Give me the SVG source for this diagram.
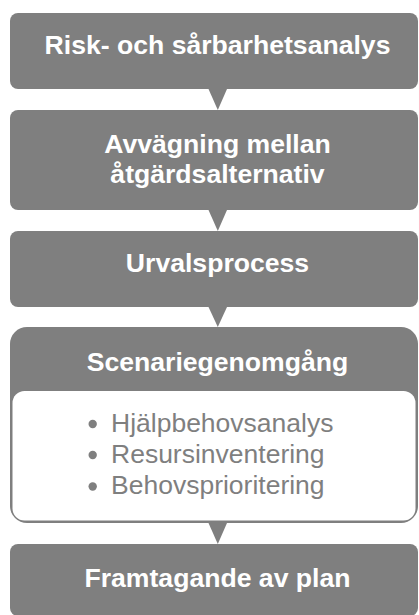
<svg xmlns="http://www.w3.org/2000/svg" width="419" height="615" viewBox="0 0 419 615">
<style>
.box{fill:#7f7f7f}
.t{font-family:"Liberation Sans",Arial,sans-serif;font-weight:bold;font-size:26.6px;fill:#ffffff;text-anchor:middle}
.b{font-family:"Liberation Sans",Arial,sans-serif;font-size:26.5px;fill:#7f7f7f}
.arr{fill:#7f7f7f}
</style>
<rect width="419" height="615" fill="#ffffff"/>
<g id="n1">
<rect class="box" x="10" y="13" width="408" height="76" rx="8"/>
<text class="t" x="217.5" y="54">Risk- och sårbarhetsanalys</text>
</g>
<g id="n2">
<rect class="box" x="10" y="110" width="408" height="100" rx="8"/>
<text class="t" x="217.5" y="153">Avvägning mellan</text>
<text class="t" x="217.5" y="183">åtgärdsalternativ</text>
</g>
<g id="n3">
<rect class="box" x="10" y="231" width="408" height="76" rx="8"/>
<text class="t" x="217.5" y="272">Urvalsprocess</text>
</g>
<g id="n4">
<rect class="box" x="10" y="327" width="408" height="196" rx="17"/>
<text class="t" x="217.5" y="371">Scenariegenomgång</text>
<rect x="12.5" y="391" width="403" height="129.5" rx="12" fill="#ffffff"/>
<circle cx="92.7" cy="424" r="4.2" fill="#7f7f7f"/>
<circle cx="92.7" cy="455" r="4.2" fill="#7f7f7f"/>
<circle cx="92.7" cy="486.5" r="4.2" fill="#7f7f7f"/>
<text class="b" x="111" y="431.5">Hjälpbehovsanalys</text>
<text class="b" x="111" y="462.5">Resursinventering</text>
<text class="b" x="111" y="494">Behovsprioritering</text>
</g>
<g id="n5">
<rect class="box" x="10" y="544" width="408" height="72" rx="8"/>
<text class="t" x="217.5" y="587">Framtagande av plan</text>
</g>
<g id="connectors">
<path class="arr" d="M208.5,89 L227,89 L217.8,110 Z"/>
<path class="arr" d="M208.5,210 L227,210 L217.8,231 Z"/>
<path class="arr" d="M208.5,307 L227,307 L217.8,327 Z"/>
<path class="arr" d="M208.5,523 L227,523 L217.8,544 Z"/>
</g>
</svg>
